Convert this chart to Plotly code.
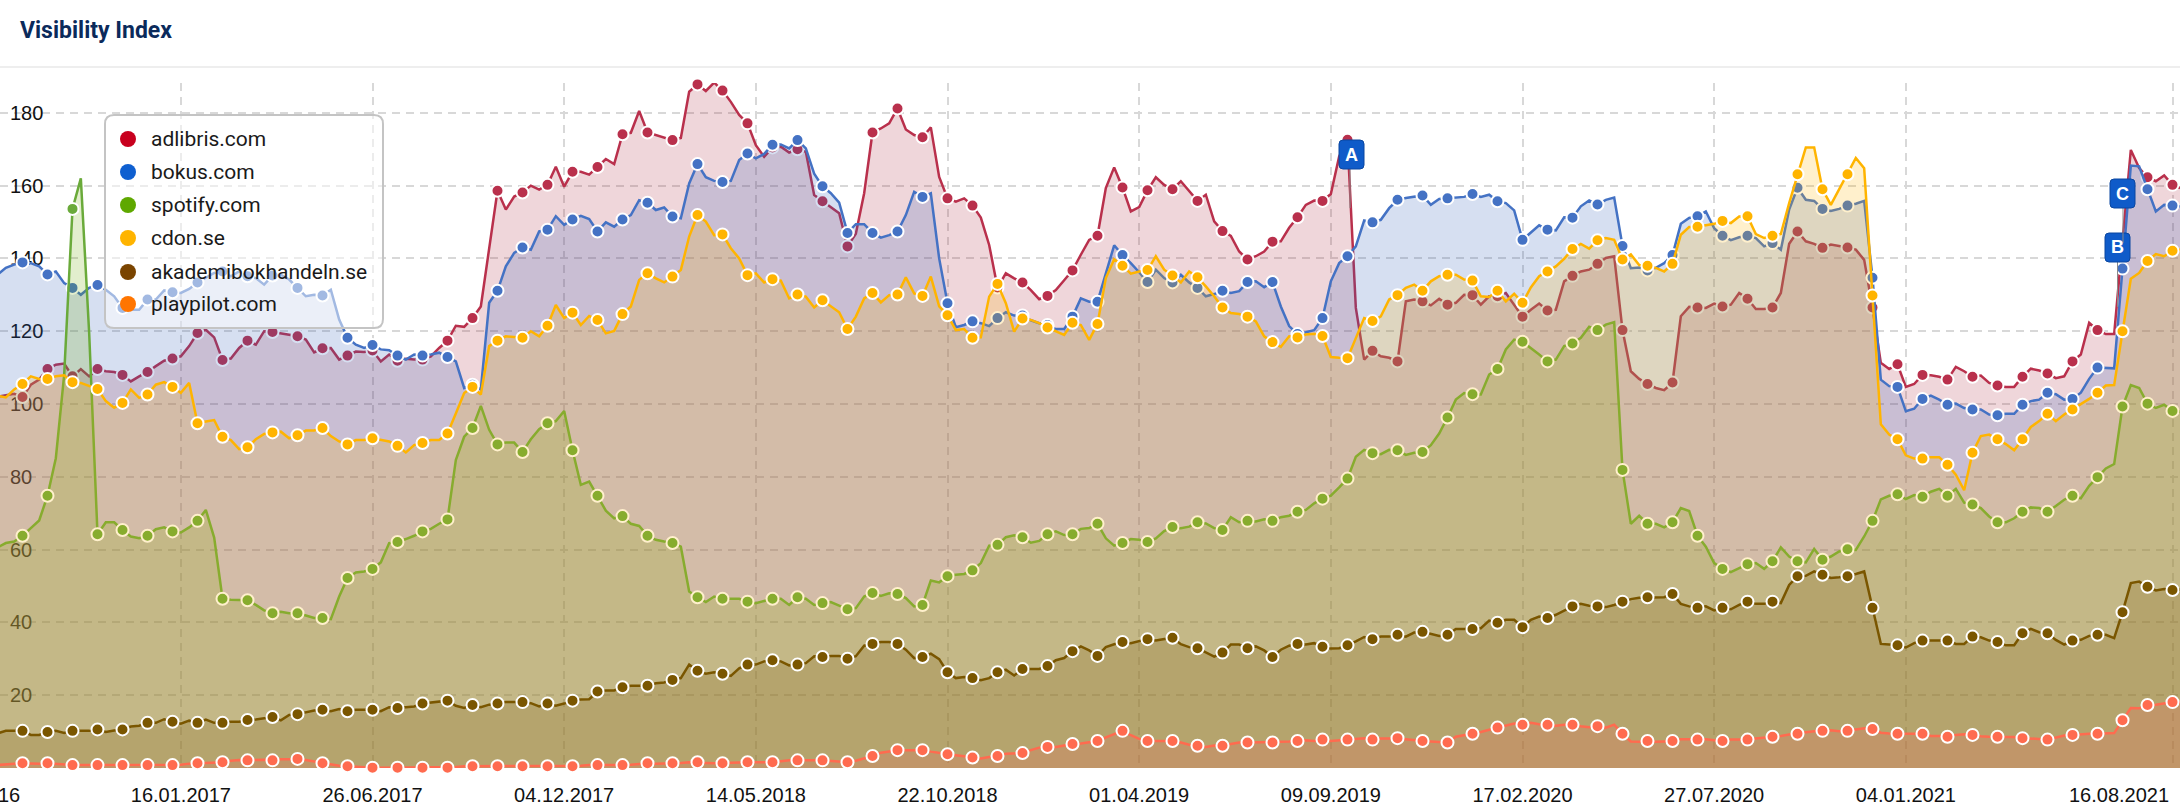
import plotly.graph_objects as go

# weekly values, every third one carries a marker
adlibris = [
    102, 102.4, 102.8, 101.9, 105.3, 106.7, 109.6, 110.8, 111.1, 107.6, 109.6, 107.6,
    109.6, 109, 108.8, 108, 106.2, 107.6, 108.8, 110.4, 111.9, 112.5, 113.1, 115.9,
    119.5, 120.4, 118.3, 112.1, 112.5, 115.4, 117.4, 116.3, 120, 119.8, 119.5, 119,
    118.6, 117.7, 114.2, 115.3, 115.4, 112.2, 113.3, 114.4, 114.3, 114.7, 111.7, 113.6,
    111.9, 112.4, 112.2, 112.2, 113.1, 115.4, 117.4, 121.5, 121.2, 123.6, 126.8, 142.4,
    158.6, 153.4, 157, 158.1, 160, 158.9, 160.2, 165.2, 159.7, 163.8, 163.8, 163,
    165.1, 167.3, 165.9, 174.1, 174.5, 180.5, 174.6, 173.9, 173, 172.5, 173.1, 185.8,
    187.8, 186, 188.3, 186.1, 183, 179.4, 177.1, 171.1, 167.9, 170.5, 170.7, 169.1,
    170, 169.3, 157.4, 155.7, 154.2, 152.4, 143.3, 146.8, 157.9, 174.6, 175.7, 177.1,
    181.2, 175.4, 173.9, 173.3, 176, 162.4, 156.5, 155.6, 156.5, 154.5, 151.2, 143.7,
    132, 135.9, 134.5, 133.4, 131.3, 128.8, 129.7, 131.3, 134, 136.7, 141, 145.1,
    146.2, 159.3, 165, 159.5, 152.9, 154.1, 158.7, 162.3, 160.2, 159, 161.2, 158.4,
    155.8, 157.5, 150.2, 147.5, 146.2, 141.9, 139.7, 140.6, 141.9, 144.6, 144.7, 148.4,
    151.3, 154.7, 155.9, 155.8, 157.7, 168, 172.6, 126.4, 112.2, 114.6, 113.1, 112.7,
    111.7, 128.2, 128.7, 128.2, 127.1, 128.9, 127.3, 127.8, 130, 129.9, 127.3, 129.6,
    129.6, 130.5, 127.3, 124, 125.9, 127.6, 125.7, 125.9, 133.7, 135.2, 136.4, 136.9,
    138.5, 140.1, 140.6, 120.3, 109, 106.9, 105.5, 104.4, 103.8, 105.9, 124.1, 126.7,
    126.5, 126.4, 127.6, 126.8, 127.3, 130.5, 128.9, 126.1, 126.1, 126.5, 130.5, 144,
    147.4, 144.7, 144, 142.9, 143.8, 143.5, 143, 142.4, 139.6, 126.5, 111.3, 109.6,
    110.9, 104.7, 105.5, 108, 107.9, 107.5, 106.7, 110.2, 109, 107.5, 107.8, 105.8,
    105.1, 104.7, 104.7, 107.5, 109.7, 109.2, 108.4, 107.1, 107.6, 111.7, 113.6, 122.3,
    120.3, 119.2, 119.2, 144.7, 169.8, 164.8, 162.3, 161.2, 162.8, 160.2, 159.3,
]
bokus = [
    135.5, 137.4, 138.3, 138.9, 138.7, 137.8, 135.6, 136.4, 133.2, 131.9, 130, 131.9,
    132.7, 131.4, 129.6, 126.4, 125.9, 125.9, 128.7, 128.7, 131.2, 130.7, 130.5, 131.6,
    133.4, 134.6, 136, 136.4, 135.1, 136.4, 135.1, 134.6, 132.8, 135.3, 135.5, 134.2,
    131.9, 129.6, 130, 129.8, 131.4, 123.2, 118.2, 116.3, 115.4, 116.2, 115, 114.8,
    113.3, 112.2, 113.6, 113.3, 113.6, 114.1, 112.9, 111.7, 104.4, 105.3, 104, 127.8,
    131.1, 137.8, 141.5, 143, 142.4, 147.4, 147.9, 151.6, 149.2, 150.7, 151.7, 150.8,
    147.4, 149.9, 148.7, 150.7, 151.9, 156, 155.3, 153.3, 154, 151.5, 151, 160.6,
    165.9, 162.3, 161.3, 161, 161.3, 167, 168.8, 167.5, 168.7, 171.2, 171.3, 170.2,
    172.5, 170.2, 163.3, 159.8, 157.9, 155.3, 147, 149.4, 149.4, 147, 145.7, 146.4,
    147.4, 151.9, 158.3, 156.9, 157.9, 140, 127.7, 121.1, 121.7, 122.7, 122.2, 121.4,
    123.6, 125.2, 124.3, 124.3, 123, 122.2, 121.7, 120.6, 120.6, 124, 129, 128.1,
    128.1, 136, 143.6, 140.9, 138.7, 136.2, 133.5, 136.9, 134.6, 133.4, 135.5, 133.4,
    131.9, 129.6, 130.2, 131.1, 130.5, 131, 133.5, 133.7, 132.1, 133.5, 126.8, 121.4,
    119.2, 119.7, 120.3, 123.6, 133.7, 138.7, 140.6, 143.3, 150.4, 149.9, 150.6, 153.8,
    156.1, 156.6, 156.9, 157.3, 154.7, 156.3, 156.5, 156.6, 156.9, 157.7, 156.9, 157.5,
    155.7, 155.2, 153.2, 145.1, 147, 149.1, 147.9, 147.7, 151.3, 151.2, 154.3, 155.9,
    154.8, 156.1, 156.7, 143.4, 137.3, 137.5, 136.7, 137.4, 138.7, 140.9, 149.5, 151.1,
    151.6, 152.9, 148.3, 146.2, 145, 145.8, 146.2, 145.6, 143.3, 144.2, 142.4, 153.4,
    159.4, 156.1, 155.8, 153.6, 153, 153.6, 154.5, 155, 155.8, 134.7, 106.7, 104.9,
    104.7, 98, 98.7, 101.4, 102.3, 101.2, 99.8, 100.1, 98.9, 98.5, 98.5, 97.1,
    96.9, 97.3, 97.3, 99.8, 100.8, 101.2, 103.1, 102.7, 101.2, 101.4, 103.1, 106.9,
    110, 109.8, 109.8, 137.2, 165.5, 165.3, 159, 152.9, 154.7, 154.5, 154.3,
]
spotify = [
    60.6, 61.8, 62.2, 63.8, 65.9, 68, 74.8, 85.1, 108, 153.6, 162, 119.5,
    64.2, 67.5, 67.5, 65.4, 63.6, 63.1, 63.8, 65.6, 66.1, 65, 64.7, 66.1,
    67.9, 70.9, 63.3, 46.5, 46.2, 46.2, 46.1, 44.8, 43.3, 42.5, 42.9, 42.5,
    42.5, 41.9, 41.2, 41.2, 40.9, 47.1, 52.2, 53.7, 54, 54.7, 56.5, 61.8,
    62.1, 62.9, 63.8, 65, 65.7, 67.1, 68.3, 84.6, 91, 93.4, 99.5, 92.9,
    88.9, 89.4, 89.4, 86.8, 90.3, 93.1, 94.7, 95.3, 98.1, 87.3, 77.8, 78.7,
    74.8, 70.7, 68.6, 69.2, 67.1, 66.5, 63.8, 62.7, 62.2, 61.8, 60.8, 48.5,
    46.9, 45.6, 47.1, 46.5, 46.5, 46.5, 45.7, 45.3, 45.9, 46.5, 46.5, 44.8,
    46.9, 46.5, 44.8, 45.3, 45.6, 44.6, 43.6, 43.9, 47.1, 48.1, 47.3, 48,
    47.8, 46.7, 44.4, 44.8, 51.5, 51, 52.7, 53.1, 53.3, 54.3, 56.3, 61.1,
    61.3, 63.4, 63.9, 63.4, 61.9, 62.4, 64.2, 65, 64, 64.2, 65.7, 65.9,
    67.1, 63.1, 61.1, 61.8, 62.9, 62.7, 62.1, 63.1, 65.1, 66.2, 65.9, 66.3,
    67.5, 67.2, 65.9, 65.4, 68.9, 67.5, 67.9, 67.7, 68.3, 67.9, 68.9, 69.3,
    70.4, 70.9, 72.7, 74, 74.8, 77.1, 79.5, 85.5, 87.4, 86.5, 86.2, 87.4,
    87.3, 86, 86.6, 86.8, 88.7, 91.9, 96.3, 101.2, 103, 102.7, 102.6, 108.1,
    109.6, 115, 117.7, 117.1, 115.4, 113.6, 111.7, 112.2, 115.9, 116.6, 118.2, 121.2,
    120.3, 121.8, 122.5, 81.9, 67.1, 69.3, 67.1, 67.1, 66.1, 67.5, 71.4, 70.6,
    63.8, 60.8, 56.3, 54.7, 53.8, 54.9, 56, 56.3, 54.7, 56.8, 60.6, 58.1,
    56.8, 56.5, 60.2, 57.2, 58.1, 59.5, 60.1, 59.9, 63.6, 67.9, 73.8, 74.8,
    75.2, 73.9, 75, 74.5, 75.9, 76.7, 74.8, 76.7, 72.9, 72.4, 71.4, 69.1,
    67.5, 67.5, 68.6, 70.4, 71.6, 71.4, 70.4, 72, 73.7, 74.8, 74.1, 77.5,
    79.9, 82.3, 83.5, 99.3, 105.2, 104.4, 100.1, 98.9, 99.8, 98.1, 97.9,
]
cdon = [
    102.3, 101.8, 104, 105.5, 107.6, 106.9, 106.9, 107.6, 107.9, 106, 105.8, 104.9,
    104.1, 100.8, 99, 100.3, 104, 101.7, 102.6, 105.3, 106, 104.7, 103.1, 105.8,
    94.7, 95.2, 95.6, 91, 90.1, 87.6, 88.1, 90.3, 91.8, 92.2, 92.4, 90.6,
    91.4, 92.7, 92.7, 93.4, 91.2, 89.7, 88.9, 90.1, 90.1, 90.6, 90.1, 89.7,
    88.5, 86.7, 88.7, 89.3, 90.1, 90.1, 91.9, 97.4, 103, 104.7, 102.6, 115.9,
    117.4, 118.6, 118.3, 118.2, 120, 118.6, 121.5, 127.2, 123.6, 125.1, 121.7, 124.2,
    123.1, 119.4, 120.1, 124.7, 126.8, 134.1, 135.9, 134.5, 133.4, 135, 136.8, 146,
    151.9, 150.1, 146.4, 146.6, 142.8, 140, 135.4, 135.9, 133.4, 134.3, 133.9, 129,
    130.1, 129.5, 126.5, 128.5, 126.8, 125.2, 120.6, 124, 129, 130.5, 127.9, 129.9,
    130.1, 134.8, 130.4, 129.7, 135, 126.8, 124.4, 120.3, 120.6, 118.2, 118.3, 129.5,
    133, 127.7, 119.9, 123.5, 123.1, 122.2, 121, 119.9, 119, 122.3, 121.7, 117.6,
    122, 134.6, 139.8, 138, 135.8, 136.4, 136.8, 140.6, 136.9, 135.3, 133.4, 136.4,
    134.8, 132.3, 129.6, 126.5, 125, 124.7, 124, 122.7, 118.6, 117, 115.7, 118.6,
    118.3, 119.1, 119.3, 118.7, 112.9, 112.7, 112.6, 118.1, 123.6, 122.8, 124.1, 128.7,
    129.9, 131.9, 132.8, 131.1, 133.7, 135.1, 135.5, 135.5, 134.2, 133.9, 129.6, 129.4,
    131.1, 128.2, 130.3, 127.8, 132, 135.1, 136.4, 137.8, 139.9, 142.6, 144, 142.7,
    145, 145.6, 145.1, 139.7, 141.1, 138.2, 138, 137.4, 136.4, 138.5, 146.5, 148.6,
    148.7, 149, 149.5, 150.3, 149.7, 151.5, 151.6, 146.7, 145.6, 146.2, 146.7, 155.2,
    163.1, 170.5, 170.5, 159, 154.7, 158.9, 163.1, 167.6, 164.8, 129.8, 94.4, 91.6,
    90.3, 85.9, 85, 85, 85.4, 85.4, 83.3, 80.6, 76.3, 86.6, 91.2, 91.6,
    90.3, 89, 87.3, 90.3, 93.7, 95.3, 97.3, 95.3, 97.1, 98.5, 99.9, 101.4,
    103.1, 105.1, 105.2, 120, 134.4, 136, 139.3, 141.2, 140.6, 142.1, 142.4,
]
akademibokhandeln = [
    9.5, 10.2, 10.2, 10.2, 9.1, 9.1, 9.9, 10.2, 9.6, 10.2, 10.2, 10.2,
    10.6, 9.9, 10.3, 10.6, 11.4, 11.6, 12.4, 12.4, 13.4, 12.7, 12.2, 13,
    12.4, 13.3, 12.4, 12.4, 12.7, 12.7, 13.2, 13.3, 13.7, 14, 13.1, 14.6,
    14.8, 15.3, 15.8, 16, 15.6, 16.2, 15.6, 16, 16, 16, 15.6, 16.7,
    16.5, 16.7, 16.9, 17.7, 18, 18.3, 18.5, 17.1, 16.5, 17.3, 16.7, 17.4,
    17.7, 18.1, 18.1, 18.1, 17.8, 16.9, 17.7, 17.1, 17.7, 18.5, 18.8, 18.9,
    21, 21.3, 21.3, 22.2, 22.6, 22.6, 22.6, 23.3, 23.5, 24.2, 24.7, 28.4,
    26.7, 25.9, 26.3, 25.9, 25.3, 27.4, 28.4, 28.4, 29.3, 29.6, 29.3, 28.2,
    28.4, 28.8, 30.7, 30.5, 30.8, 30.8, 30, 30.7, 33.6, 34.1, 34.6, 34.6,
    34.1, 32.5, 30.2, 30.5, 31.4, 29.9, 26.3, 24.7, 25, 24.7, 24.1, 24.7,
    26.3, 27, 25.4, 27.2, 27.2, 27.2, 28, 29.6, 30.2, 32.1, 33.4, 32.3,
    30.8, 33.2, 34, 34.6, 34.3, 34.8, 35.4, 35, 35.4, 35.8, 34, 33.2,
    32.9, 31.8, 30.6, 31.7, 33.9, 33.9, 32.9, 33.4, 32.3, 30.5, 32.5, 33.6,
    34.1, 33.9, 34.3, 33.3, 32.8, 32.9, 33.7, 34.8, 36, 35.4, 36.1, 36.1,
    36.6, 36.1, 37.2, 37.4, 36.8, 36.3, 36.6, 38.2, 38.2, 38.2, 38.4, 40.5,
    39.9, 40.7, 40.7, 38.7, 40.7, 41.6, 41.2, 42.1, 43.3, 44.4, 45.1, 44.6,
    44.4, 44.2, 44.8, 45.7, 46.4, 46.8, 46.9, 46.8, 46.9, 47.8, 45.1, 44.4,
    44, 44.4, 43.3, 44, 43.6, 44.8, 45.7, 45.1, 45.1, 45.7, 45.3, 50.3,
    52.7, 52.8, 54, 53.1, 52.2, 52.4, 52.7, 53.3, 54, 44, 34.1, 33.9,
    33.7, 33.1, 34.3, 35, 35, 35, 35, 34.1, 34.1, 36.1, 35.9, 35,
    34.6, 33.7, 33.7, 37, 38.2, 37.3, 37, 35.2, 33.9, 35, 35.2, 36.3,
    36.6, 36.6, 35.7, 42.8, 50.8, 51.2, 49.8, 48.8, 49.2, 48.9, 49,
]
playpilot = [
    0.8, 1.1, 1.2, 1.3, 1.2, 1.2, 1.3, 1.1, 0.8, 0.8, 0.8, 0.8,
    0.8, 0.9, 0.8, 0.8, 0.8, 0.8, 0.8, 0.8, 0.8, 0.8, 0.9, 1.2,
    1.3, 1.3, 1.4, 1.6, 2, 2.2, 2.1, 2.2, 2.3, 2.1, 2.4, 2.4,
    2.5, 2.2, 1.8, 1.3, 0.9, 0.6, 0.5, 0.3, 0.2, 0.1, 0.1, 0.1,
    0.1, 0.1, 0.1, 0.1, 0.1, 0.2, 0.1, 0.3, 0.5, 0.5, 0.6, 0.6,
    0.5, 0.5, 0.5, 0.5, 0.4, 0.5, 0.5, 0.4, 0.4, 0.5, 0.6, 0.8,
    0.8, 0.7, 0.6, 0.8, 0.9, 1.1, 1.3, 1.2, 1.2, 1.3, 1.4, 1.6,
    1.6, 1.4, 1.3, 1.3, 1.4, 1.5, 1.6, 1.5, 1.6, 1.6, 1.9, 2.1,
    2.1, 2, 2.1, 2.1, 2, 1.9, 1.6, 2, 2.6, 3.3, 4.2, 4.6,
    4.9, 4.9, 4.9, 4.9, 4.5, 4.1, 3.8, 3.5, 3.2, 2.9, 2.6, 3,
    3.3, 3.9, 4.1, 4.1, 4.9, 5.6, 5.8, 5.8, 6.2, 6.6, 6.7, 7.1,
    7.4, 8.4, 9.4, 10.2, 9, 8, 7.4, 7.4, 7.4, 7.4, 7, 6.4,
    6.1, 5.8, 6.2, 6.1, 6.6, 7, 7, 7, 7, 7, 7.2, 7.3,
    7.4, 7.6, 7.4, 7.8, 7.4, 7.6, 7.8, 8, 8.2, 7.8, 8.1, 8.1,
    8.2, 7.9, 7.6, 7.4, 7.3, 7.2, 7, 8.6, 9, 9.4, 9.9, 10.5,
    11.1, 11.6, 12.2, 11.9, 12.4, 12, 11.9, 11.6, 11.9, 11.9, 11.5, 11.2,
    11.5, 11.1, 11.9, 9.4, 7.3, 7.2, 7.4, 7.2, 7.3, 7.4, 7.9, 7.9,
    7.8, 7.9, 7.6, 7.4, 7.8, 7.7, 7.8, 8.1, 8.3, 8.6, 8.8, 9.2,
    9.4, 9.8, 10.1, 10.2, 10.4, 10.1, 10.2, 10.6, 10.9, 10.7, 9.7, 9.5,
    9.4, 9.3, 9.4, 9.4, 8.8, 8.8, 8.6, 9.1, 9.3, 9.1, 8.7, 8.6,
    8.6, 8.5, 8.5, 8.2, 8.2, 8, 7.8, 8.3, 8.9, 9.1, 9.3, 9.4,
    9.4, 9.6, 9.6, 13.1, 16.5, 16.4, 17.3, 17.4, 17.8, 18.1, 18,
]

domains = ["adlibris.com", "bokus.com", "spotify.com", "cdon.se", "akademibokhandeln.se", "playpilot.com"]
tick_index = [22, 45, 68, 91, 114, 137, 160, 183, 206, 229, 261]
tick_labels = ["16.01.2017", "26.06.2017", "04.12.2017", "14.05.2018", "22.10.2018", "01.04.2019",
               "09.09.2019", "17.02.2020", "27.07.2020", "04.01.2021", ""]
y_ticks = [20, 40, 60, 80, 100, 120, 140, 160, 180]

LINE = ["#B9304C", "#4472C4", "#6AAA3A", "#FFB400", "#7A5600", "#FF6B4F"]
FILL = ["rgba(175,50,70,.2)", "rgba(50,95,185,.2)", "rgba(112,168,4,.2)",
        "rgba(255,180,0,.2)", "rgba(127,84,6,.2)", "rgba(245,95,90,.2)"]
LEGEND_DOT = ["#C8001E", "#0F5FD0", "#5FA800", "#FFB400", "#7A4400", "#FF7500"]

W, H = 2180, 812
PLOT_TOP, PLOT_BOTTOM = 83, 768

# helpers, everything decorative is placed in page pixels
def px_x(x):
    return x / W

def px_y(y):
    return (PLOT_BOTTOM - y) / (PLOT_BOTTOM - PLOT_TOP)

def round_box(x0, y0, x1, y1, r):
    a, b, c, d = px_x(x0), px_x(x1), px_y(y0), px_y(y1)
    rx, ry = r / W, r / (PLOT_BOTTOM - PLOT_TOP)
    return (f"M {a+rx} {c} L {b-rx} {c} Q {b} {c} {b} {c-ry} L {b} {d+ry} Q {b} {d} {b-rx} {d} "
            f"L {a+rx} {d} Q {a} {d} {a} {d+ry} L {a} {c-ry} Q {a} {c} {a+rx} {c} Z")

fig = go.Figure()
all_series = [adlibris, bokus, spotify, cdon, akademibokhandeln, playpilot]
for name, vals, col, fil in zip(domains, all_series, LINE, FILL):
    xs = list(range(len(vals)))
    fig.add_trace(go.Scatter(x=xs, y=vals, mode="lines", name=name, fill="tozeroy", fillcolor=fil,
                             line=dict(color=col, width=2.5), showlegend=False, hoverinfo="skip"))
    fig.add_trace(go.Scatter(x=xs[::3], y=vals[::3], mode="markers", name=name, cliponaxis=False,
                             marker=dict(color=col, size=12, line=dict(color="white", width=2)),
                             showlegend=False))

shapes = []
annotations = []

# header
shapes.append(dict(type="line", xref="paper", yref="paper", x0=0, x1=1, y0=px_y(67), y1=px_y(67),
                   line=dict(color="#EEEEEE", width=2)))
annotations.append(dict(text="<b>Visibility Index</b>", xref="paper", yref="paper", x=px_x(18), y=px_y(30),
                        xanchor="left", yanchor="middle", showarrow=False,
                        font=dict(family="Roboto", size=23, color="#0B2A5B")))

# legend box
shapes.append(dict(type="path", xref="paper", yref="paper", path=round_box(105, 115, 383, 328, 9),
                   fillcolor="rgba(255,255,255,.5)", line=dict(color="#C4C4C4", width=2), layer="above"))
legend_y = [139, 172, 205, 238, 272, 304]
for name, dot, y in zip(domains, LEGEND_DOT, legend_y):
    shapes.append(dict(type="circle", xref="paper", yref="paper", x0=px_x(120), x1=px_x(136),
                       y0=px_y(y + 8), y1=px_y(y - 8), fillcolor=dot, line=dict(width=0), layer="above"))
    annotations.append(dict(text=name, xref="paper", yref="paper", x=px_x(149), y=px_y(y), xanchor="left",
                            yanchor="middle", showarrow=False, font=dict(family="Roboto", size=21, color="#1A1A1A")))

# event flags: letter, left, top, connector x, connector end
flags = [("A", 1339, 140, 1350, 208), ("B", 2105, 233, 2117.5, 307), ("C", 2110, 179, 2123, 243)]
for letter, fx, fy, lx, ly in flags:
    shapes.append(dict(type="line", xref="paper", yref="paper", x0=px_x(lx), x1=px_x(lx), y0=px_y(fy + 29),
                       y1=px_y(ly), line=dict(color="#8A8A8A", width=1), layer="above"))
    shapes.append(dict(type="path", xref="paper", yref="paper", path=round_box(fx, fy, fx + 25, fy + 29, 4),
                       fillcolor="#0F5BC9", line=dict(color="#0A47A0", width=1), layer="above"))
    annotations.append(dict(text=f"<b>{letter}</b>", xref="paper", yref="paper", x=px_x(fx + 12.5), y=px_y(fy + 14.5),
                            xanchor="center", yanchor="middle", showarrow=False,
                            font=dict(family="Liberation Sans", size=18, color="white")))

# first and last date labels are pushed to fit, so they do not sit on their ticks
annotations.append(dict(text="16", xref="paper", yref="paper", x=px_x(22), y=px_y(795), xanchor="right",
                        yanchor="middle", showarrow=False, font=dict(family="Liberation Sans", size=20, color="#111111")))
annotations.append(dict(text="16.08.2021", xref="paper", yref="paper", x=px_x(2119), y=px_y(795), xanchor="center",
                        yanchor="middle", showarrow=False, font=dict(family="Liberation Sans", size=20, color="#111111")))

fig.update_layout(
    width=W, height=H, autosize=False,
    margin=dict(l=0, r=0, t=PLOT_TOP, b=H - PLOT_BOTTOM, pad=0),
    paper_bgcolor="white", plot_bgcolor="white", showlegend=False,
    shapes=shapes, annotations=annotations,
)
fig.update_xaxes(range=[0.3, 261.9], tickmode="array", tickvals=tick_index, ticktext=tick_labels,
                 showgrid=True, gridcolor="#D8D8D8", gridwidth=1.5, griddash="8px,6px", zeroline=False,
                 showline=False, ticks="", layer="below traces", ticklabelstandoff=13,
                 tickfont=dict(family="Liberation Sans", size=20, color="#111111"))
fig.update_yaxes(range=[0, (PLOT_BOTTOM - PLOT_TOP) / 3.64], tickmode="array", tickvals=y_ticks,
                 showgrid=True, gridcolor="#D8D8D8", gridwidth=2, griddash="8px,6px", zeroline=False,
                 showline=False, ticks="", ticklabelposition="inside", layer="below traces", ticklabelstandoff=7,
                 tickfont=dict(family="Liberation Sans", size=20, color="#111111"))

fig.write_html("out.html", config={"displayModeBar": False}, post_script="document.body.style.margin='0';")
